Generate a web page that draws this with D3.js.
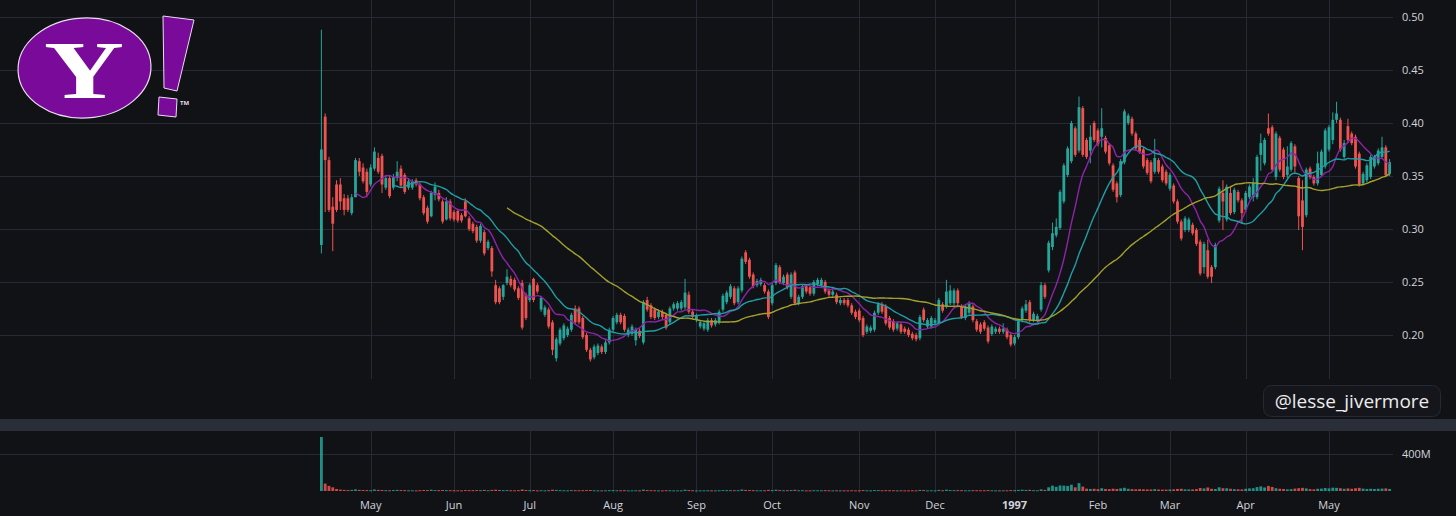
<!DOCTYPE html>
<html>
<head>
<meta charset="utf-8">
<script src="https://cdn.jsdelivr.net/npm/d3@7"></script>
<style>
  html, body { margin: 0; background: #111216; }
  svg { display: block; font-family: "Open Sans", "Noto Sans", sans-serif; }
</style>
</head>
<body>
<svg id="chart" width="1456" height="516"></svg>
<script>
// daily candles, split adjusted, 12 Apr 1996 .. 23 May 1997
const opens = [
  .285,.406,.365,.321,.342,.342,.329,.329,.315,.330,
  .364,.358,.354,.342,.357,.367,.369,.339,.348,.339,
  .348,.357,.351,.339,.339,.346,.342,.330,.320,.312,
  .332,.334,.326,.309,.326,.316,.317,.313,.326,.310,
  .305,.302,.289,.297,.282,.282,.247,.244,.236,.249,
  .253,.252,.244,.249,.238,.233,.253,.247,.224,.219,
  .224,.212,.178,.192,.197,.200,.205,.225,.225,.216,
  .200,.186,.179,.183,.189,.184,.193,.205,.212,.219,
  .218,.200,.201,.195,.204,.193,.233,.228,.224,.217,
  .222,.219,.212,.225,.225,.225,.226,.238,.222,.214,
  .208,.206,.205,.214,.210,.212,.224,.231,.236,.244,
  .231,.242,.278,.271,.257,.247,.248,.247,.241,.230,
  .249,.264,.249,.257,.236,.259,.230,.236,.246,.245,
  .239,.248,.247,.250,.242,.238,.238,.230,.233,.233,
  .228,.222,.223,.216,.203,.204,.205,.221,.229,.227,
  .216,.213,.206,.210,.206,.205,.201,.200,.197,.224,
  .208,.208,.211,.211,.229,.227,.230,.230,.242,.227,
  .216,.221,.227,.213,.210,.212,.207,.201,.203,.206,
  .203,.205,.200,.192,.198,.214,.223,.231,.214,.214,
  .224,.247,.261,.283,.294,.301,.326,.351,.364,.395,
  .374,.414,.384,.374,.400,.393,.387,.386,.379,.360,
  .343,.332,.363,.400,.404,.390,.384,.375,.365,.363,
  .354,.365,.359,.354,.338,.341,.326,.307,.299,.299,
  .304,.299,.288,.264,.280,.264,.264,.308,.334,.309,
  .334,.316,.335,.327,.318,.330,.330,.330,.370,.362,
  .395,.396,.349,.386,.375,.351,.356,.378,.348,.327,
  .313,.357,.349,.343,.351,.359,.375,.384,.403,.403,
  .368,.397,.390,.387,.371,.343,.346,.349,.359,.362,
  .368,.377,.352
];
const highs = [
  .488,.409,.368,.330,.346,.348,.333,.332,.333,.367,
  .367,.362,.357,.361,.377,.372,.371,.351,.350,.352,
  .364,.360,.353,.348,.347,.348,.344,.332,.322,.336,
  .344,.337,.328,.330,.328,.318,.319,.315,.329,.312,
  .307,.304,.305,.299,.290,.284,.252,.246,.248,.262,
  .256,.254,.246,.252,.240,.249,.254,.249,.237,.228,
  .226,.214,.198,.207,.211,.208,.221,.228,.227,.218,
  .202,.188,.191,.192,.191,.195,.207,.218,.221,.221,
  .220,.207,.210,.207,.206,.233,.236,.230,.226,.224,
  .224,.221,.227,.231,.232,.233,.253,.241,.224,.220,
  .214,.213,.216,.216,.216,.224,.239,.242,.248,.246,
  .246,.274,.280,.273,.259,.253,.254,.249,.243,.249,
  .268,.266,.257,.259,.259,.261,.238,.248,.248,.247,
  .252,.254,.254,.252,.244,.243,.240,.235,.235,.235,
  .230,.224,.225,.218,.210,.209,.223,.231,.231,.229,
  .218,.215,.213,.212,.208,.207,.203,.202,.219,.226,
  .216,.218,.216,.235,.231,.252,.247,.244,.244,.229,
  .229,.232,.229,.215,.212,.214,.209,.210,.208,.208,
  .211,.207,.202,.200,.215,.227,.233,.233,.222,.220,
  .250,.249,.289,.306,.310,.337,.362,.378,.402,.397,
  .425,.416,.386,.398,.402,.395,.414,.388,.381,.362,
  .345,.366,.413,.409,.406,.392,.386,.377,.367,.365,
  .385,.367,.361,.356,.353,.343,.328,.309,.312,.311,
  .306,.301,.290,.288,.290,.266,.287,.340,.346,.342,
  .340,.339,.337,.329,.336,.342,.348,.370,.390,.386,
  .409,.398,.392,.388,.377,.378,.383,.380,.350,.346,
  .358,.359,.351,.373,.375,.395,.398,.410,.420,.405,
  .384,.404,.392,.389,.373,.354,.362,.370,.370,.376,
  .387,.379,.366
];
const lows = [
  .277,.316,.316,.279,.316,.318,.313,.316,.313,.330,
  .350,.343,.330,.340,.355,.352,.334,.337,.329,.337,
  .345,.339,.333,.337,.337,.340,.327,.313,.305,.311,
  .327,.326,.305,.308,.308,.307,.306,.306,.311,.298,
  .296,.287,.287,.275,.280,.255,.229,.229,.233,.247,
  .245,.241,.233,.205,.214,.231,.231,.239,.222,.217,
  .206,.181,.175,.190,.195,.198,.203,.210,.210,.196,
  .184,.175,.177,.181,.182,.182,.191,.203,.210,.210,
  .203,.198,.199,.190,.197,.191,.222,.215,.214,.215,
  .215,.205,.210,.223,.223,.223,.224,.220,.215,.212,
  .206,.204,.203,.207,.208,.210,.222,.229,.234,.228,
  .229,.240,.267,.253,.244,.245,.246,.239,.215,.228,
  .247,.248,.247,.243,.234,.228,.228,.234,.239,.237,
  .237,.246,.245,.239,.236,.236,.229,.228,.228,.226,
  .219,.215,.212,.198,.201,.202,.203,.219,.220,.209,
  .205,.203,.204,.201,.201,.198,.195,.194,.195,.212,
  .206,.206,.209,.209,.221,.225,.228,.228,.228,.215,
  .214,.219,.212,.203,.201,.204,.192,.199,.201,.201,
  .201,.196,.189,.190,.196,.212,.221,.212,.212,.212,
  .222,.234,.259,.280,.292,.299,.324,.349,.362,.368,
  .372,.368,.366,.362,.382,.378,.377,.371,.360,.335,
  .325,.330,.361,.398,.388,.374,.371,.357,.351,.343,
  .352,.352,.344,.341,.336,.324,.305,.289,.297,.297,
  .294,.284,.256,.258,.253,.249,.262,.306,.299,.307,
  .313,.314,.325,.305,.316,.328,.326,.328,.355,.360,
  .388,.354,.346,.354,.347,.348,.354,.353,.299,.280,
  .311,.347,.341,.341,.349,.357,.373,.380,.400,.373,
  .366,.381,.379,.357,.340,.341,.344,.347,.357,.360,
  .366,.349,.350
];
const closes = [
  .375,.365,.318,.305,.318,.326,.318,.318,.330,.365,
  .354,.345,.335,.358,.373,.354,.342,.348,.331,.349,
  .354,.341,.335,.345,.345,.342,.329,.315,.307,.334,
  .340,.328,.307,.326,.310,.309,.308,.308,.312,.300,
  .298,.289,.303,.277,.288,.260,.231,.231,.247,.255,
  .247,.243,.235,.207,.216,.247,.233,.241,.235,.226,
  .208,.186,.196,.205,.209,.206,.219,.212,.212,.198,
  .186,.177,.189,.190,.184,.193,.205,.216,.219,.212,
  .205,.205,.208,.205,.199,.231,.224,.217,.216,.222,
  .217,.207,.225,.229,.230,.231,.240,.222,.217,.218,
  .212,.211,.214,.209,.214,.222,.237,.240,.246,.230,
  .244,.272,.269,.255,.246,.251,.252,.241,.217,.247,
  .266,.250,.255,.245,.257,.230,.236,.246,.241,.239,
  .250,.252,.252,.241,.238,.241,.231,.233,.230,.228,
  .221,.217,.214,.200,.208,.207,.221,.229,.222,.211,
  .207,.205,.211,.203,.203,.200,.197,.196,.217,.214,
  .214,.216,.214,.233,.223,.241,.242,.242,.230,.217,
  .227,.230,.214,.205,.203,.206,.194,.208,.206,.203,
  .206,.198,.191,.198,.213,.225,.229,.214,.220,.218,
  .247,.236,.287,.296,.302,.335,.360,.376,.400,.370,
  .415,.370,.368,.387,.384,.380,.395,.373,.362,.337,
  .330,.364,.411,.407,.390,.376,.373,.359,.353,.345,
  .367,.354,.346,.343,.351,.326,.307,.291,.310,.309,
  .296,.286,.258,.286,.255,.255,.285,.338,.326,.340,
  .315,.337,.327,.315,.334,.340,.344,.368,.381,.384,
  .390,.356,.390,.356,.349,.359,.381,.359,.312,.302,
  .356,.349,.343,.362,.373,.393,.396,.403,.409,.375,
  .381,.384,.381,.359,.342,.352,.360,.368,.368,.374,
  .377,.351,.363
];
// volume in millions of shares
const volumes = [
  584,80,55,40,22,15,12,10,12,18,
  12,11,10,9,16,12,11,9,8,10,
  12,10,9,8,8,7,9,11,10,14,
  10,9,11,9,9,8,8,7,10,9,
  9,10,9,12,8,12,14,11,9,10,
  8,8,9,16,11,9,10,7,8,7,
  9,14,12,9,8,7,10,9,8,9,
  10,11,8,7,7,8,9,10,8,8,
  9,7,7,8,7,15,10,9,8,7,
  7,9,8,7,7,7,14,10,8,7,
  7,7,8,7,7,8,10,9,9,9,
  9,16,12,10,9,8,8,8,12,10,
  14,10,8,9,10,13,8,9,7,7,
  9,8,8,9,8,7,8,7,7,7,
  8,7,8,10,8,7,10,10,8,9,
  8,8,7,8,7,7,8,7,12,10,
  7,8,7,12,8,14,10,9,10,9,
  8,8,9,9,8,8,10,8,7,7,
  8,8,10,9,12,14,12,13,9,8,
  18,12,40,58,45,60,58,55,68,40,
  85,48,25,22,24,20,30,22,20,25,
  22,28,35,24,20,18,20,18,17,16,
  20,16,15,15,16,18,22,24,18,17,
  17,20,32,28,38,24,22,40,30,30,
  24,20,18,17,24,28,30,42,50,38,
  55,44,30,24,22,18,20,26,30,34,
  28,20,18,24,26,32,28,36,34,30,
  24,28,24,30,34,26,22,24,22,24,
  26,28,22
];
const holidays = ["1996-05-27","1996-07-04","1996-09-02","1996-11-28","1996-12-25",
                  "1997-01-01","1997-02-17","1997-03-28","1997-05-26"];
const monthLabels = ["May","Jun","Jul","Aug","Sep","Oct","Nov","Dec","1997","Feb","Mar","Apr","May"];
const priceTicks = [0.20, 0.25, 0.30, 0.35, 0.40, 0.45, 0.50];
const volumeTicks = [400];
const maPeriods = [10, 20, 50];
const maColors = ["#8e24aa", "#1f9ea6", "#a3a12c"];

const W = 1456, plotRight = 1393;
const UP = "#26a69a", DOWN = "#ef5350", GRID = "#272a34", TXT = "#d1d4dc";

const svg = d3.select("#chart");
const fmtDay = d3.timeFormat("%Y-%m-%d");
const n = closes.length;

const days = d3.timeDay.range(new Date(1996, 3, 12), new Date(1997, 4, 24))
  .filter(d => d.getDay() % 6 !== 0 && !holidays.includes(fmtDay(d)))
  .slice(0, n);
const keys = days.map(fmtDay);

const x = d3.scalePoint().domain(keys).range([321.4, 1389.6]);
const y = d3.scaleLinear().domain([0.20, 0.50]).range([335, 17]);
const yv = d3.scaleLinear().domain([0, 400]).range([491, 454]);

const candles = keys.map((k, i) => ({
  key: k, o: opens[i], h: highs[i], l: lows[i], c: closes[i], v: volumes[i]
}));

// first trading day of each month
const monthStarts = days.map((d, i) => i).filter(i => i > 0 && days[i].getMonth() !== days[i - 1].getMonth());

svg.append("rect").attr("width", W).attr("height", 516).attr("fill", "#111216");

// grid
const grid = svg.append("g").attr("stroke", GRID).attr("stroke-width", 1);
grid.selectAll(".hg").data(priceTicks).join("line")
  .attr("x1", 0).attr("x2", plotRight)
  .attr("y1", d => Math.round(y(d)) + 0.5).attr("y2", d => Math.round(y(d)) + 0.5);
grid.selectAll(".vg").data(monthStarts).join("line")
  .attr("x1", i => Math.round(x(keys[i])) + 0.5).attr("x2", i => Math.round(x(keys[i])) + 0.5)
  .attr("y1", 0).attr("y2", 379);
grid.selectAll(".vgv").data(monthStarts).join("line")
  .attr("x1", i => Math.round(x(keys[i])) + 0.5).attr("x2", i => Math.round(x(keys[i])) + 0.5)
  .attr("y1", 431).attr("y2", 493);
grid.selectAll(".hv").data(volumeTicks).join("line")
  .attr("x1", 0).attr("x2", plotRight)
  .attr("y1", d => Math.round(yv(d)) + 0.5).attr("y2", d => Math.round(yv(d)) + 0.5);

// pane separator
svg.append("rect").attr("x", 0).attr("y", 419).attr("width", W).attr("height", 12).attr("fill", "#2a2e39");

// candles
const bw = 2.8;
const cg = svg.append("g");
const cs = cg.selectAll("g").data(candles).join("g")
  .attr("fill", d => d.c >= d.o ? UP : DOWN)
  .attr("stroke", d => d.c >= d.o ? UP : DOWN);
cs.append("line")
  .attr("x1", d => x(d.key)).attr("x2", d => x(d.key))
  .attr("y1", d => y(Math.max(d.h, d.o, d.c))).attr("y2", d => y(Math.min(d.l, d.o, d.c)))
  .attr("stroke-width", 1);
cs.append("rect")
  .attr("stroke", "none")
  .attr("x", d => x(d.key) - bw / 2)
  .attr("width", bw)
  .attr("y", d => y(Math.max(d.o, d.c)))
  .attr("height", d => Math.max(1, Math.abs(y(d.o) - y(d.c))));

// moving averages
maPeriods.forEach((p, j) => {
  const ma = candles.map((d, i) => i < p - 1 ? null : d3.mean(closes.slice(i - p + 1, i + 1)));
  const line = d3.line()
    .defined(v => v !== null)
    .x((v, i) => x(keys[i]))
    .y(v => y(v))
    .curve(d3.curveMonotoneX);
  svg.append("path").datum(ma)
    .attr("fill", "none").attr("stroke", maColors[j]).attr("stroke-width", 1.4)
    .attr("d", line);
});

// volume
svg.append("g").selectAll("rect").data(candles).join("rect")
  .attr("x", d => x(d.key) - bw / 2)
  .attr("width", bw)
  .attr("y", d => yv(d.v))
  .attr("height", d => Math.max(1, yv(0) - yv(d.v)))
  .attr("fill", d => d.c >= d.o ? UP : DOWN)
  .attr("opacity", 0.85);

// price axis
const yAxis = svg.append("g").attr("transform", `translate(${plotRight},0)`)
  .call(d3.axisRight(y).tickValues(priceTicks).tickFormat(d3.format(".2f")).tickSize(0).tickPadding(9));
yAxis.select(".domain").remove();
yAxis.selectAll("text").attr("fill", TXT).attr("font-size", 11).attr("font-family", "'Open Sans', sans-serif");

const vAxis = svg.append("g").attr("transform", `translate(${plotRight},0)`)
  .call(d3.axisRight(yv).tickValues(volumeTicks).tickFormat(d => d + "M").tickSize(0).tickPadding(9));
vAxis.select(".domain").remove();
vAxis.selectAll("text").attr("fill", TXT).attr("font-size", 11).attr("font-family", "'Open Sans', sans-serif");

// time axis
svg.append("g").selectAll("text").data(monthStarts).join("text")
  .attr("x", i => x(keys[i]))
  .attr("y", 509)
  .attr("text-anchor", "middle")
  .attr("font-size", 11)
  .attr("font-weight", (i, k) => monthLabels[k] === "1997" ? 700 : 400)
  .attr("fill", TXT)
  .text((i, k) => monthLabels[k]);

// watermark
svg.append("rect").attr("x", 1263.5).attr("y", 385.5).attr("width", 177).attr("height", 31)
  .attr("rx", 8).attr("fill", "#15161b").attr("stroke", "#262933");
svg.append("text").attr("x", 1352).attr("y", 407.5).attr("text-anchor", "middle")
  .attr("font-size", 19).attr("fill", "#ececee").text("@lesse_jivermore");

// yahoo logo
const logo = svg.append("g");
logo.append("ellipse").attr("cx", 84.5).attr("cy", 68).attr("rx", 66.5).attr("ry", 50)
  .attr("transform", "rotate(-3 84.5 68)")
  .attr("fill", "#7a0a9a").attr("stroke", "#e9dcef").attr("stroke-width", 1.2);
logo.append("text").attr("transform", "translate(84,98) scale(1.35,1)")
  .attr("text-anchor", "middle")
  .style("font-family", "'Liberation Serif', 'DejaVu Serif', serif").style("font-weight", 700)
  .attr("font-size", 82).attr("fill", "#ffffff").text("Y");
logo.append("polygon").attr("points", "163,16 194,20 177,91 164,88")
  .attr("fill", "#7a0a9a").attr("stroke", "#e9dcef").attr("stroke-width", 1);
logo.append("polygon").attr("points", "159,97 177,99 176,117 158,115")
  .attr("fill", "#7a0a9a").attr("stroke", "#e9dcef").attr("stroke-width", 1);
logo.append("text").attr("x", 180).attr("y", 105).attr("font-size", 6).attr("font-weight", 700)
  .attr("fill", "#e9dcef").text("TM");
</script>
</body>
</html>
